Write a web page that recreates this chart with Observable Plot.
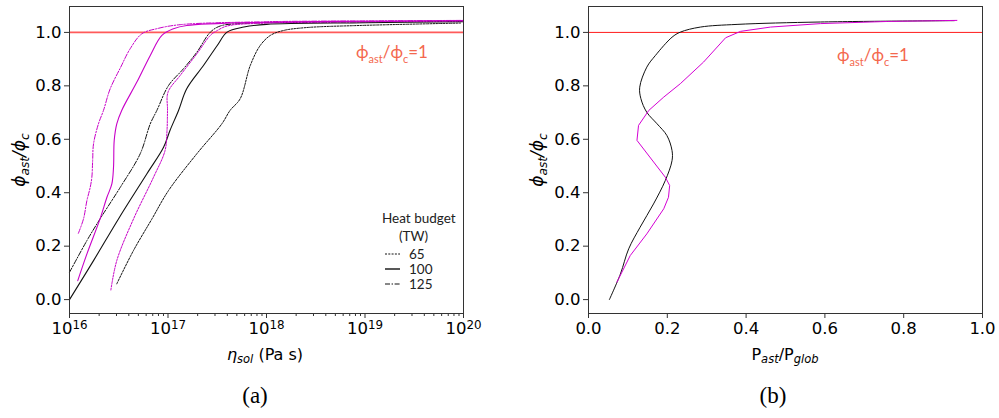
<!DOCTYPE html>
<html>
<head>
<meta charset="utf-8">
<script src="https://cdn.jsdelivr.net/npm/d3@7"></script>
<script src="https://cdn.jsdelivr.net/npm/@observablehq/plot@0.6"></script>
<style>
  html, body { margin: 0; padding: 0; background: #fff; }
  #wrap { position: relative; width: 999px; height: 418px; overflow: hidden; font-family: "DejaVu Sans", sans-serif; color: #000; }
  .abs { position: absolute; white-space: nowrap; }
  .ylab { font-size: 17px; transform: translate(-50%, -50%) rotate(-90deg); }
  .xlab { font-size: 16px; transform: translate(-50%, -50%); }
  .panel { font-family: "Liberation Serif", "DejaVu Serif", serif; font-size: 23px; transform: translate(-50%, -50%); }
  .ann { font-family: Lato, "Open Sans", sans-serif; font-size: 17px; color: #f4684e; transform: translate(-50%, -50%); }
  .ann sub { font-size: 11px; vertical-align: -5px; }
  sub { font-size: 0.72em; vertical-align: -0.3em; line-height: 0; }
  .it { font-style: italic; }
  .leg { font-family: Lato, "Open Sans", sans-serif; font-size: 13.5px; color: #222; }
</style>
</head>
<body>
<div id="wrap"></div>
<script>
// ---------- Data: panel (a) — log10(eta_sol [Pa s]) vs phi_ast/phi_c ----------
const magenta125_logEta = [16.09, 16.142, 16.177, 16.21, 16.227, 16.235, 16.244, 16.294, 16.345, 16.413, 16.52, 16.616, 16.735, 16.887, 17.124, 18.0, 19.0, 20.0];
const magenta125_phi    = [0.248, 0.302, 0.371, 0.42, 0.458, 0.52, 0.583, 0.658, 0.708, 0.789, 0.87, 0.939, 0.995, 1.014, 1.029, 1.04, 1.043, 1.045];

const magenta100_logEta = [16.084, 16.177, 16.31, 16.38, 16.43, 16.447, 16.454, 16.48, 16.53, 16.684, 16.82, 16.938, 17.056, 17.19, 18.0, 19.0, 20.0];
const magenta100_phi    = [0.071, 0.171, 0.302, 0.383, 0.433, 0.496, 0.596, 0.658, 0.708, 0.814, 0.914, 0.989, 1.014, 1.026, 1.038, 1.042, 1.044];

const magenta65_logEta  = [16.42, 16.48, 16.65, 16.853, 16.97, 16.99, 16.995, 17.0, 17.124, 17.293, 17.43, 17.5, 17.6, 18.0, 19.0, 20.0];
const magenta65_phi     = [0.036, 0.146, 0.302, 0.458, 0.558, 0.633, 0.708, 0.776, 0.839, 0.92, 0.989, 1.007, 1.024, 1.035, 1.04, 1.043];

const black100_logEta   = [16.0, 16.244, 16.497, 16.786, 16.955, 17.02, 17.107, 17.19, 17.36, 17.5, 17.6, 17.77, 18.0, 19.0, 20.0];
const black100_phi      = [0.0, 0.146, 0.302, 0.471, 0.57, 0.633, 0.708, 0.789, 0.876, 0.951, 1.001, 1.02, 1.03, 1.036, 1.04];

const black125_logEta   = [16.0, 16.177, 16.31, 16.515, 16.718, 16.82, 16.887, 17.005, 17.157, 17.293, 17.43, 17.53, 17.73, 18.5, 20.0];
const black125_phi      = [0.102, 0.221, 0.302, 0.42, 0.546, 0.658, 0.708, 0.801, 0.864, 0.926, 1.001, 1.024, 1.033, 1.038, 1.041];

const black65_logEta    = [16.48, 16.65, 16.837, 17.005, 17.293, 17.547, 17.63, 17.733, 17.835, 17.936, 18.04, 18.17, 18.4, 18.95, 19.97];
const black65_phi       = [0.059, 0.184, 0.302, 0.408, 0.546, 0.658, 0.708, 0.752, 0.876, 0.951, 0.989, 1.007, 1.018, 1.026, 1.035];

// ---------- Data: panel (b) — P_ast/P_glob vs phi_ast/phi_c ----------
const blackB_P   = [0.053, 0.081, 0.102, 0.131, 0.165, 0.195, 0.212, 0.212, 0.199, 0.174, 0.148, 0.133, 0.13, 0.148, 0.17, 0.212, 0.233, 0.284, 0.377, 0.589, 0.928];
const blackB_phi = [0.0, 0.096, 0.19, 0.271, 0.358, 0.446, 0.52, 0.558, 0.614, 0.658, 0.701, 0.752, 0.795, 0.87, 0.914, 0.982, 1.001, 1.02, 1.03, 1.039, 1.044];

const magentaB_P   = [0.072, 0.106, 0.148, 0.191, 0.203, 0.206, 0.195, 0.123, 0.127, 0.153, 0.191, 0.233, 0.292, 0.348, 0.386, 0.462, 0.589, 0.759, 0.935];
const magentaB_phi = [0.065, 0.165, 0.246, 0.34, 0.383, 0.427, 0.458, 0.596, 0.652, 0.708, 0.758, 0.808, 0.889, 0.98, 1.004, 1.02, 1.033, 1.041, 1.045];

// ---------- Ticks / labels ----------
const yTicks = [0, 0.2, 0.4, 0.6, 0.8, 1.0];
const xTicksB = [0, 0.2, 0.4, 0.6, 0.8, 1.0];
const decadeExps = [16, 17, 18, 19, 20];
const legendBudgets = ["65", "100", "125"];
const thresholdValue = 1.0;

// ---------- Helpers ----------
const zipA = (lx, ys) => lx.map((e, i) => ({x: 10 ** e, y: ys[i]}));
const zipB = (xs, ys) => xs.map((v, i) => ({x: v, y: ys[i]}));
const majorTicksA = decadeExps.map(e => 10 ** e);
const minorTicksA = [];
for (let e = 16; e < 20; e++) for (let m = 2; m <= 9; m++) minorTicksA.push(m * 10 ** e);

const MAG = "#c800c8";
const BLK = "#111";
const DOT = "2,1.3";
const DASHDOT = "5,1.6,1.4,1.6";
const yDomain = [-0.052, 1.097];

const common = {
  height: 345,
  marginTop: 6,
  marginBottom: 32,
  marginLeft: 69,
  style: {fontFamily: "DejaVu Sans, sans-serif", fontSize: "16.5px", color: "#000", background: "transparent", overflow: "visible"}
};

// ---------- Panel (a) ----------
const plotA = Plot.plot({
  ...common,
  width: 500,
  marginRight: 37,
  x: {type: "log", domain: [1e16, 1e20], label: null},
  y: {domain: yDomain, label: null},
  marks: [
    Plot.axisX({ticks: minorTicksA, tickSize: 3, tickFormat: () => "", stroke: "#333", label: null}),
    Plot.axisX({ticks: majorTicksA, tickSize: 5, tickPadding: 4, tickFormat: d => String(Math.round(Math.log10(d))), stroke: "#333", label: null}),
    Plot.axisY({ticks: yTicks, tickSize: 5, tickPadding: 3, tickFormat: d3.format(".1f"), stroke: "#333", label: null}),
    Plot.ruleY([thresholdValue], {stroke: "#ff5a5a", strokeWidth: 1.8}),
    Plot.line(zipA(black65_logEta, black65_phi), {x: "x", y: "y", stroke: BLK, strokeWidth: 1, strokeDasharray: DOT, curve: "catmull-rom"}),
    Plot.line(zipA(black125_logEta, black125_phi), {x: "x", y: "y", stroke: BLK, strokeWidth: 1, strokeDasharray: DASHDOT, curve: "catmull-rom"}),
    Plot.line(zipA(black100_logEta, black100_phi), {x: "x", y: "y", stroke: BLK, strokeWidth: 1.1, curve: "catmull-rom"}),
    Plot.line(zipA(magenta65_logEta, magenta65_phi), {x: "x", y: "y", stroke: MAG, strokeWidth: 1, strokeDasharray: DOT, curve: "catmull-rom"}),
    Plot.line(zipA(magenta125_logEta, magenta125_phi), {x: "x", y: "y", stroke: MAG, strokeWidth: 1, strokeDasharray: DASHDOT, curve: "catmull-rom"}),
    Plot.line(zipA(magenta100_logEta, magenta100_phi), {x: "x", y: "y", stroke: MAG, strokeWidth: 1.1, curve: "catmull-rom"}),
    Plot.frame({stroke: "#333", strokeWidth: 1})
  ]
});

// ---------- Panel (b) ----------
const plotB = Plot.plot({
  ...common,
  width: 480,
  marginRight: 17,
  x: {domain: [0, 1], label: null},
  y: {domain: yDomain, label: null},
  marks: [
    Plot.axisX({ticks: xTicksB, tickSize: 5, tickPadding: 4, tickFormat: d3.format(".1f"), stroke: "#333", label: null}),
    Plot.axisY({ticks: yTicks, tickSize: 5, tickPadding: 3, tickFormat: d3.format(".1f"), stroke: "#333", label: null}),
    Plot.ruleY([thresholdValue], {stroke: "#ff0000", strokeWidth: 0.9}),
    Plot.line(zipB(blackB_P, blackB_phi), {x: "x", y: "y", stroke: BLK, strokeWidth: 1, curve: "catmull-rom"}),
    Plot.line(zipB(magentaB_P, magentaB_phi), {x: "x", y: "y", stroke: "#d400d4", strokeWidth: 1, curve: "linear"}),
    Plot.frame({stroke: "#333", strokeWidth: 1})
  ]
});

// Superscript decade labels (10^16 etc.)
d3.select(plotA).selectAll('g[aria-label="x-axis tick label"] text').each(function() {
  const t = d3.select(this);
  const exp = t.text();
  if (!exp) return;
  t.text("");
  t.append("tspan").text("10");
  t.append("tspan").attr("dy", "-0.45em").attr("font-size", "0.72em").text(exp);
});

const wrap = document.getElementById("wrap");
plotA.style.position = "absolute"; plotA.style.left = "0px"; plotA.style.top = "0px";
plotB.style.position = "absolute"; plotB.style.left = "519px"; plotB.style.top = "0px";
wrap.appendChild(plotA);
wrap.appendChild(plotB);

// ---------- HTML text overlays ----------
function addDiv(cls, html, left, top) {
  const d = document.createElement("div");
  d.className = "abs " + cls;
  d.innerHTML = html;
  d.style.left = left + "px";
  d.style.top = top + "px";
  wrap.appendChild(d);
  return d;
}
const phiLabel = '<span class="it">ϕ<sub>ast</sub>/ϕ<sub>c</sub></span>';
addDiv("ylab", phiLabel, 19, 160);
addDiv("ylab", phiLabel, 537, 160);
addDiv("xlab", '<span class="it">η<sub>sol</sub></span> (Pa s)', 265, 354);
addDiv("xlab", 'P<sub class="it">ast</sub>/P<sub class="it">glob</sub>', 785, 354);
addDiv("panel", "(a)", 255, 396);
addDiv("panel", "(b)", 773, 396);
const annText = 'ϕ<sub>ast</sub>/ϕ<sub>c</sub>=1';
addDiv("ann", annText, 392, 51);
addDiv("ann", annText, 873, 54);

// Legend (Heat budget)
const leg = addDiv("leg", "", 380, 212);
leg.style.lineHeight = "1";
const dashes = {"65": DOT, "100": null, "125": DASHDOT};
let html = '<div style="position:absolute;left:2px;top:0;">Heat budget</div>';
html += '<div style="position:absolute;left:19px;top:18px;">(TW)</div>';
legendBudgets.forEach((b, i) => {
  const y = 36 + i * 15;
  html += `<svg style="position:absolute;left:5px;top:${y + 1}px" width="16" height="10"><line x1="0" x2="15" y1="5" y2="5" stroke="#111" stroke-width="${b === "100" ? 1.4 : 1}" ${dashes[b] ? `stroke-dasharray="${dashes[b]}"` : ""}/></svg>`;
  html += `<div style="position:absolute;left:29px;top:${y}px;">${b}</div>`;
});
leg.innerHTML = html;
</script>
</body>
</html>
